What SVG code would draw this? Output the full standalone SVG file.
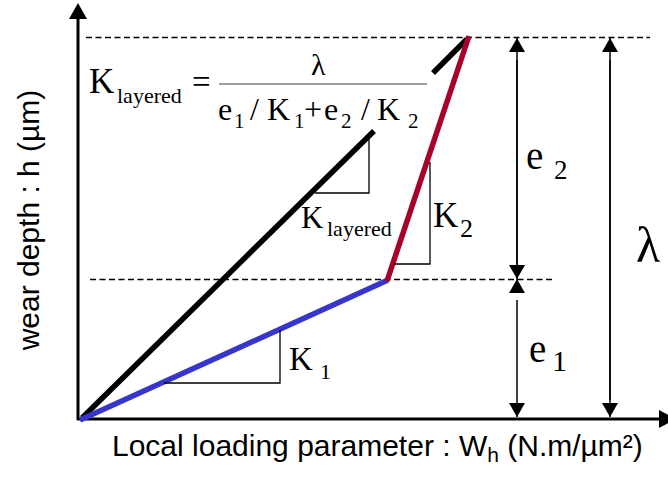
<svg xmlns="http://www.w3.org/2000/svg" width="668" height="477" viewBox="0 0 668 477">
<defs>
<style>
.serif{font-family:"Liberation Serif","Times New Roman",serif;fill:#000}
.sans{font-family:"Liberation Sans",Arial,sans-serif;fill:#000}
.dash{stroke:#000;stroke-width:1.3;stroke-dasharray:6 3.5;fill:none}
.thin{stroke:#000;stroke-width:1.3;fill:none}
.dim{stroke:#000;stroke-width:1.5;fill:none}
.thick{stroke-width:5.5;fill:none;stroke-linecap:butt}
</style>
<marker id="ah" viewBox="0 0 14 16" refX="14" refY="8" markerWidth="14" markerHeight="16" markerUnits="userSpaceOnUse" orient="auto-start-reverse">
<path d="M0,0 L14,8 L0,16 Z" fill="#000"/>
</marker>
</defs>
<rect width="668" height="477" fill="#fff"/>

<g id="axes">
<line x1="78" y1="420" x2="78" y2="18" stroke="#000" stroke-width="3"/>
<polygon points="78,3 69,19 87,19" fill="#000"/>
<line x1="77" y1="419" x2="660" y2="419" stroke="#000" stroke-width="3"/>
<polygon points="659,410 659,428 676,419" fill="#000"/>
</g>

<g id="guides">
<line class="dash" x1="86" y1="37.5" x2="650" y2="37.5"/>
<line class="dash" x1="90" y1="279.5" x2="555" y2="279.5"/>
</g>

<g id="connectors">
<line class="dim" x1="517" y1="270" x2="517" y2="38" marker-end="url(#ah)"/>
<line class="dim" x1="517" y1="60" x2="517" y2="279" marker-end="url(#ah)"/>
<line class="dim" x1="517" y1="290" x2="517" y2="279" marker-end="url(#ah)"/>
<line class="dim" x1="517" y1="300" x2="517" y2="417" marker-end="url(#ah)"/>
<line class="dim" x1="610" y1="400" x2="610" y2="38" marker-end="url(#ah)"/>
<line class="dim" x1="610" y1="60" x2="610" y2="417" marker-end="url(#ah)"/>
</g>

<g id="curves">
<line class="thick" stroke="#000" x1="82" y1="418" x2="374" y2="131"/>
<line class="thick" stroke="#000" x1="433" y1="73" x2="467" y2="39"/>
<line class="thick" stroke="#3636cc" x1="80" y1="420" x2="388" y2="280"/>
<line class="thick" stroke="#a8002a" x1="387" y1="281" x2="469" y2="36"/>
</g>

<g id="slopes">
<polyline class="thin" points="369,136 369,193 315,193"/>
<polyline class="thin" points="430,162 430,264 394,264"/>
<polyline class="thin" points="280,330 280,383 164,383"/>
</g>

<g id="formula">
<text class="serif" x="89" y="93" font-size="35">K</text>
<text class="serif" x="117" y="103" font-size="22">layered</text>
<text class="serif" x="192" y="93" font-size="33">=</text>
<line x1="219" y1="84" x2="427" y2="84" stroke="#808080" stroke-width="1.5"/>
<text class="serif" x="311" y="75" font-size="30">λ</text>
<text class="serif" y="120" font-size="32"><tspan x="218">e</tspan><tspan x="250">/</tspan><tspan x="267">K</tspan><tspan x="304">+</tspan><tspan x="324">e</tspan><tspan x="361">/</tspan><tspan x="377">K</tspan></text>
<text class="serif" y="128" font-size="21"><tspan x="234">1</tspan><tspan x="294">1</tspan><tspan x="341">2</tspan><tspan x="408">2</tspan></text>
</g>

<g id="labels">
<text class="serif" x="301" y="228" font-size="31">K</text>
<text class="serif" x="327" y="236" font-size="22">layered</text>
<text class="serif" x="433" y="227" font-size="35">K</text>
<text class="serif" x="460" y="237" font-size="26">2</text>
<text class="serif" x="289" y="370" font-size="33">K</text>
<text class="serif" x="320" y="379" font-size="22">1</text>
<text class="serif" x="526" y="169" font-size="39">e</text>
<text class="serif" x="554" y="179" font-size="27">2</text>
<text class="serif" x="529" y="362" font-size="39">e</text>
<text class="serif" x="552" y="371" font-size="30">1</text>
<text class="serif" x="636" y="262" font-size="50">λ</text>
<text class="sans" x="112" y="456" font-size="30">Local loading parameter : W<tspan font-size="21" dy="6">h</tspan><tspan dy="-6"> (N.m/µm²)</tspan></text>
<text class="sans" transform="translate(39,220) rotate(-90)" text-anchor="middle" font-size="30">wear depth : h (µm)</text>
</g>
</svg>
